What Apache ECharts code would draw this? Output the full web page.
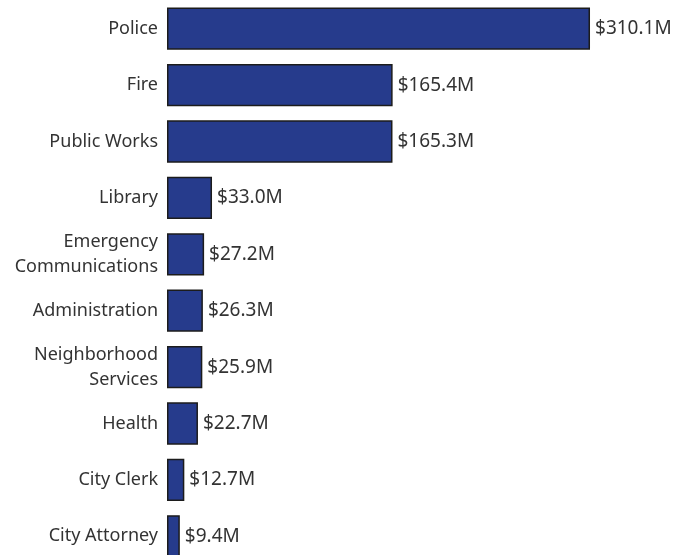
<!DOCTYPE html>
<html>
<head>
<meta charset="utf-8">
<script src="https://cdn.jsdelivr.net/npm/echarts@6/dist/echarts.min.js"></script>
<style>
  html, body { margin: 0; padding: 0; background: #fff; }
  #chart { width: 678px; height: 555px; }
</style>
</head>
<body>
<div id="chart"></div>
<script>
  // departments, top to bottom
  const departments = [
    "Police",
    "Fire",
    "Public Works",
    "Library",
    "Emergency\nCommunications",
    "Administration",
    "Neighborhood\nServices",
    "Health",
    "City Clerk",
    "City Attorney",
  ];
  // budget in $M
  const budget = [310.1, 165.4, 165.3, 33.0, 27.2, 26.3, 25.9, 22.7, 12.7, 9.4];

  const chart = echarts.init(document.getElementById("chart"), null, {
    renderer: "canvas",
  });

  const font = "'Noto Sans', sans-serif";

  chart.setOption({
    animation: false,
    backgroundColor: "#fff",
    grid: {
      left: 167,
      top: 0.5,
      width: 511,
      height: 564,
      containLabel: false,
      outerBoundsMode: "none",
    },
    xAxis: {
      type: "value",
      min: 0,
      max: 374.6,
      show: false,
    },
    yAxis: {
      type: "category",
      inverse: true,
      data: departments,
      axisLine: { show: false },
      axisTick: { show: false },
      splitLine: { show: false },
      axisLabel: {
        margin: 9,
        color: "#333",
        fontFamily: font,
        fontSize: 18,
        lineHeight: 25,
        align: "right",
      },
    },
    series: [
      {
        type: "bar",
        data: budget,
        barCategoryGap: "25%",
        itemStyle: {
          color: "#263b8c",
          borderColor: "#1c1c1c",
          borderWidth: 1.5,
        },
        label: {
          show: true,
          position: "right",
          distance: 5,
          color: "#333",
          fontFamily: font,
          fontSize: 19,
          formatter: (p) => "$" + p.value.toFixed(1) + "M",
        },
      },
    ],
  });

  window.addEventListener("resize", () => chart.resize());
</script>
</body>
</html>
